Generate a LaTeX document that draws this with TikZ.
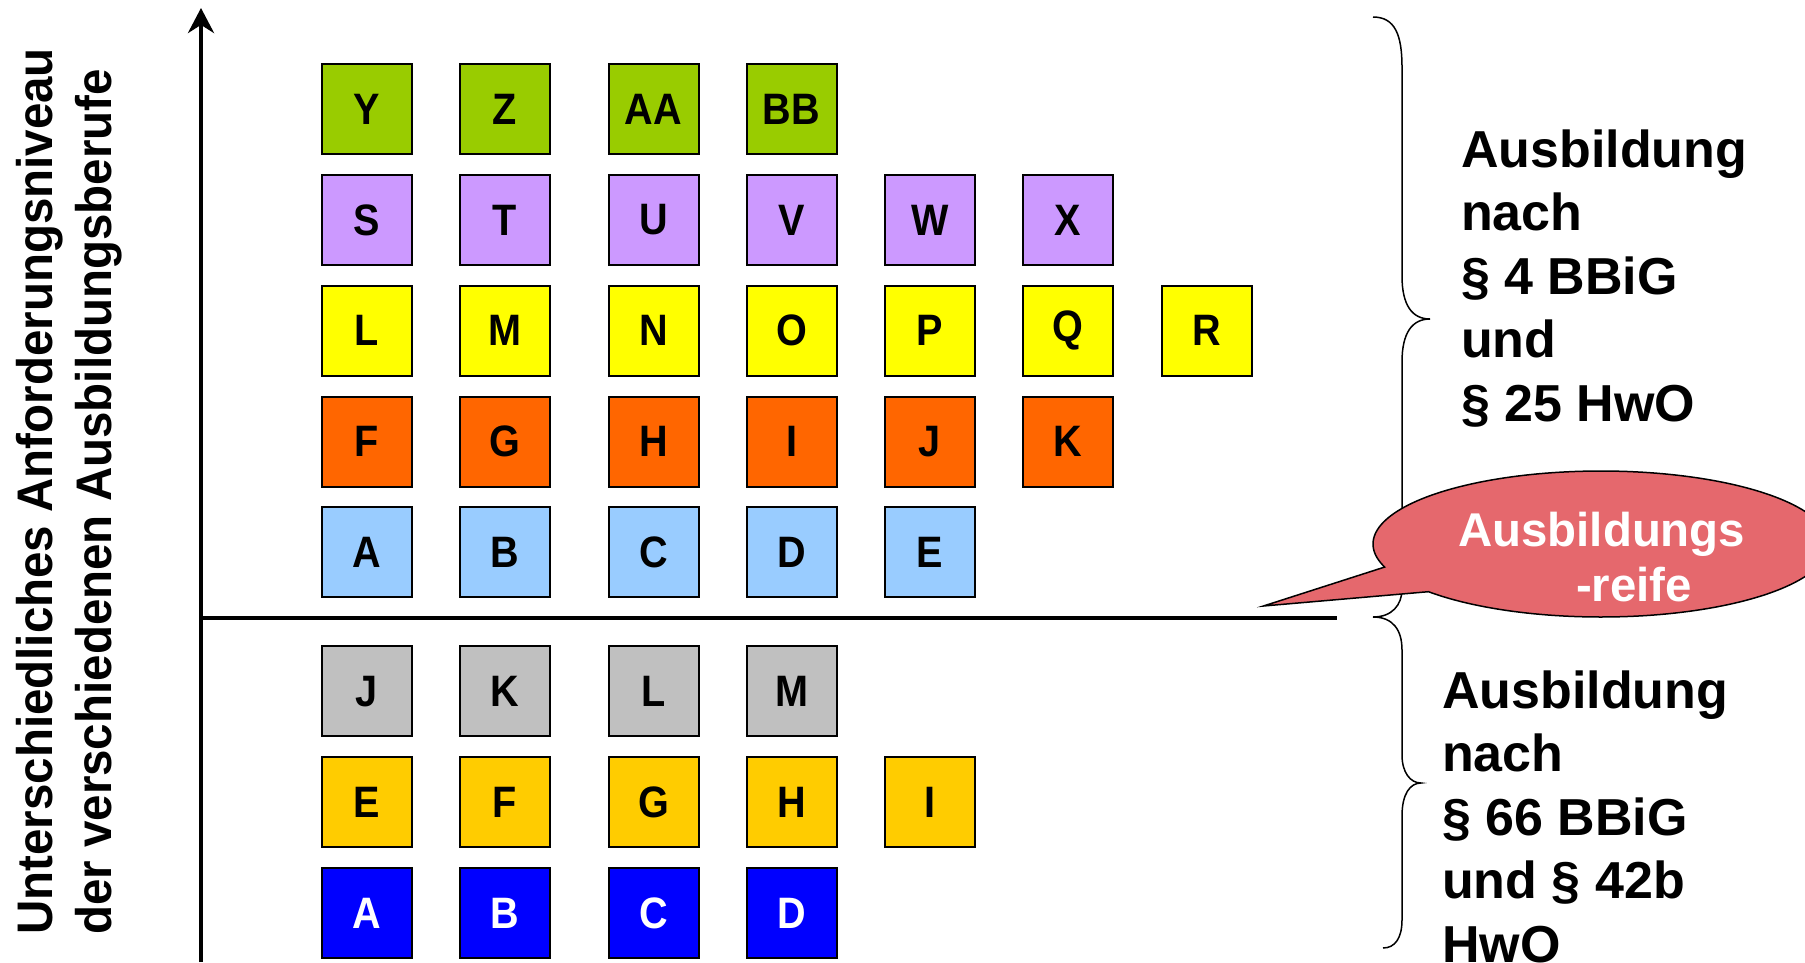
\documentclass[tikz,border=0pt]{standalone}
\usepackage{fontspec}
\setmainfont{Liberation Sans}
\newfontfamily\narrowfont[FakeStretch=0.9]{Liberation Sans}
\newfontfamily\axisfont[FakeStretch=0.95]{Liberation Sans}
\usetikzlibrary{arrows.meta}
\definecolor{cgreen}{HTML}{99CC00}
\definecolor{cpurple}{HTML}{CC99FF}
\definecolor{cyellow}{HTML}{FFFF00}
\definecolor{corange}{HTML}{FF6600}
\definecolor{clblue}{HTML}{99CCFF}
\definecolor{cgray}{HTML}{C0C0C0}
\definecolor{cgold}{HTML}{FFCC00}
\definecolor{cblue}{HTML}{0000FF}
\definecolor{ccallout}{HTML}{E5686D}
\newcommand\mkrow[4]{%
  \foreach \lab [count=\i] in {#4} {
    \pgfmathsetmacro\cx{{366.5,505,653.5,791.5,930,1068,1206.5}[\i-1]}
    \node[box,#1] (#3\i) at (\cx,#2) {\lab};
  }}
\begin{document}
\begin{tikzpicture}[x=1pt,y=-1pt,
  box/.style={draw=black, line width=2pt, minimum size=90pt, inner sep=0pt,
    font=\narrowfont\bfseries\fontsize{44}{44}\selectfont},
  bracestyle/.style={draw=black, line width=1.5pt},
  sidetext/.style={anchor=base west, align=left, inner sep=0pt,
    font=\bfseries\fontsize{52}{63.5}\selectfont},
  callout/.style={draw=black, line width=1.5pt, fill=ccallout},
  callouttext/.style={anchor=base west, align=left, inner sep=0pt, text=white,
    font=\bfseries\fontsize{47.4}{55}\selectfont},
  axislabel/.style={rotate=90, anchor=base west, align=left, inner sep=0pt,
    font=\axisfont\bfseries\fontsize{50}{59}\selectfont}]
\useasboundingbox (0,0) rectangle (1805,962);

% axes
\coordinate (ybot) at (201,962);
\coordinate (ytop) at (201,8);
\coordinate (hstart) at (199,617.5);
\coordinate (hend) at (1337,617.5);
\draw[line width=4.5pt, -{Stealth[length=25pt,width=26pt]}] (ybot) -- (ytop);
\draw[line width=4pt] (hstart) -- (hend);

% boxes
\mkrow{fill=cgreen}{109.2}{g}{Y,Z,AA,BB}
\mkrow{fill=cpurple}{220}{p}{S,T,U,V,W,X}
\mkrow{fill=cyellow}{330.8}{y}{L,M,N,O,P,Q,R}
\mkrow{fill=corange}{441.6}{o}{F,G,H,I,J,K}
\mkrow{fill=clblue}{552.4}{l}{A,B,C,D,E}
\mkrow{fill=cgray}{691.3}{r}{J,K,L,M}
\mkrow{fill=cgold}{802}{d}{E,F,G,H,I}
\mkrow{fill=cblue,text=white}{913}{b}{A,B,C,D}

% axis label (anchor: baseline of the last line)
\node[axislabel] (ylabel) at (111,935)
  {Unterschiedliches Anforderungsniveau\\der verschiedenen Ausbildungsberufe};

% braces
\draw[bracestyle] (1373,17) .. controls (1395,17) and (1402,35) .. (1402,67)
  -- (1402,276) .. controls (1402,305) and (1412,319) .. (1430,319)
  .. controls (1412,319) and (1402,333) .. (1402,362)
  -- (1402,589) .. controls (1402,605) and (1392,617) .. (1373,617);
\draw[bracestyle] (1373,617) .. controls (1393,617) and (1402,630) .. (1402,650)
  -- (1402,755) .. controls (1402,772) and (1410,783) .. (1421,783)
  .. controls (1410,783) and (1402,794) .. (1402,816)
  -- (1402,920) .. controls (1402,938) and (1395,948) .. (1383,948);

% side texts (anchor: baseline of the last line)
\node[sidetext] (upper) at (1461,421)
  {Ausbildung\\nach\\§ 4 BBiG\\und\\§ 25 HwO};
\node[sidetext] (lower) at (1442,962)
  {Ausbildung\\nach\\§ 66 BBiG\\und § 42b\\HwO};

% callout
\coordinate (tip) at (1263.4,606);
\draw[callout] plot[domain=161.6:499.2, samples=180, variable=\t]
  ({1601+228*cos(\t)},{544+73*sin(\t)}) -- (tip) -- cycle;
\node[callouttext] (reife) at (1458,601) {Ausbildungs\\\hspace*{118pt}-reife};
\end{tikzpicture}
\end{document}
